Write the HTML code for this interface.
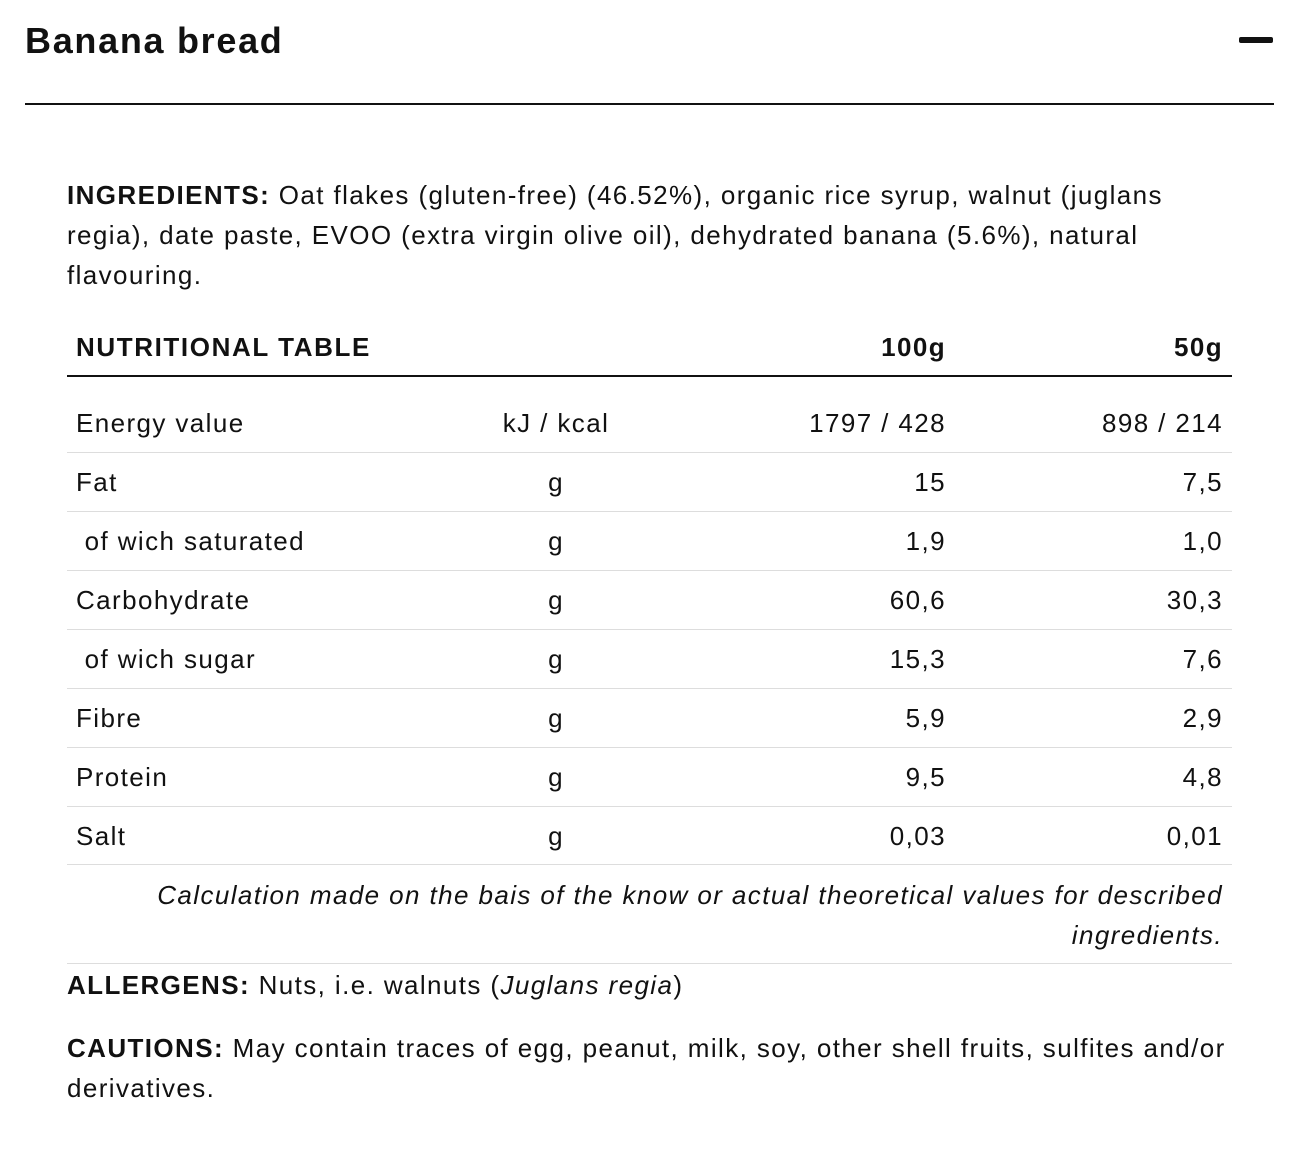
<!DOCTYPE html>
<html><head><meta charset="utf-8"><style>
body{margin:0;width:1308px;height:1168px;background:#fff;font-family:"Liberation Sans",Arial,sans-serif;color:#111;position:relative;overflow:hidden}
.a{position:absolute;white-space:nowrap;line-height:1}
.t{font-size:26px;letter-spacing:1.4px}
.r{text-align:right}
.c{text-align:center}
.hl{position:absolute;left:67px;width:1165px;height:1px;background:#ddd}
</style></head><body>
<div class="a" style="left:25px;top:23px;font-size:36px;font-weight:bold;letter-spacing:1.7px">Banana bread</div>
<div style="position:absolute;left:1239px;top:37px;width:34px;height:6px;background:#111;border-radius:2px"></div>
<div style="position:absolute;left:25px;top:103px;width:1249px;height:2px;background:#111"></div>

<div class="a t" style="left:67px;top:182px"><b>INGREDIENTS:</b> Oat flakes (gluten-free) (46.52%), organic rice syrup, walnut (juglans</div>
<div class="a t" style="left:67px;top:222px">regia), date paste, EVOO (extra virgin olive oil), dehydrated banana (5.6%), natural</div>
<div class="a t" style="left:67px;top:262px">flavouring.</div>

<div class="a t" style="left:76px;top:334px;font-weight:bold;letter-spacing:1.6px">NUTRITIONAL TABLE</div>
<div class="a t r" style="left:746px;width:200px;top:334px;font-weight:bold">100g</div>
<div class="a t r" style="left:1023px;width:200px;top:334px;font-weight:bold">50g</div>
<div style="position:absolute;left:67px;top:375px;width:1165px;height:2px;background:#111"></div>

<div class="a t" style="left:76px;top:410px">Energy value</div><div class="a t c" style="left:456px;width:200px;top:410px">kJ / kcal</div><div class="a t r" style="left:746px;width:200px;top:410px">1797 / 428</div><div class="a t r" style="left:1023px;width:200px;top:410px">898 / 214</div>
<div class="hl" style="top:452px"></div>
<div class="a t" style="left:76px;top:469px">Fat</div><div class="a t c" style="left:456px;width:200px;top:469px">g</div><div class="a t r" style="left:746px;width:200px;top:469px">15</div><div class="a t r" style="left:1023px;width:200px;top:469px">7,5</div>
<div class="hl" style="top:511px"></div>
<div class="a t" style="left:76px;top:528px">&nbsp;of wich saturated</div><div class="a t c" style="left:456px;width:200px;top:528px">g</div><div class="a t r" style="left:746px;width:200px;top:528px">1,9</div><div class="a t r" style="left:1023px;width:200px;top:528px">1,0</div>
<div class="hl" style="top:570px"></div>
<div class="a t" style="left:76px;top:587px">Carbohydrate</div><div class="a t c" style="left:456px;width:200px;top:587px">g</div><div class="a t r" style="left:746px;width:200px;top:587px">60,6</div><div class="a t r" style="left:1023px;width:200px;top:587px">30,3</div>
<div class="hl" style="top:629px"></div>
<div class="a t" style="left:76px;top:646px">&nbsp;of wich sugar</div><div class="a t c" style="left:456px;width:200px;top:646px">g</div><div class="a t r" style="left:746px;width:200px;top:646px">15,3</div><div class="a t r" style="left:1023px;width:200px;top:646px">7,6</div>
<div class="hl" style="top:688px"></div>
<div class="a t" style="left:76px;top:705px">Fibre</div><div class="a t c" style="left:456px;width:200px;top:705px">g</div><div class="a t r" style="left:746px;width:200px;top:705px">5,9</div><div class="a t r" style="left:1023px;width:200px;top:705px">2,9</div>
<div class="hl" style="top:747px"></div>
<div class="a t" style="left:76px;top:764px">Protein</div><div class="a t c" style="left:456px;width:200px;top:764px">g</div><div class="a t r" style="left:746px;width:200px;top:764px">9,5</div><div class="a t r" style="left:1023px;width:200px;top:764px">4,8</div>
<div class="hl" style="top:806px"></div>
<div class="a t" style="left:76px;top:823px">Salt</div><div class="a t c" style="left:456px;width:200px;top:823px">g</div><div class="a t r" style="left:746px;width:200px;top:823px">0,03</div><div class="a t r" style="left:1023px;width:200px;top:823px">0,01</div>
<div class="hl" style="top:864px"></div>

<div class="a t r" style="left:123px;width:1100px;top:882px;font-style:italic">Calculation made on the bais of the know or actual theoretical values for described</div>
<div class="a t r" style="left:123px;width:1100px;top:922px;font-style:italic">ingredients.</div>
<div class="hl" style="top:963px"></div>

<div class="a t" style="left:67px;top:972px"><b>ALLERGENS:</b> Nuts, i.e. walnuts (<i>Juglans regia</i>)</div>
<div class="a t" style="left:67px;top:1035px"><b>CAUTIONS:</b> May contain traces of egg, peanut, milk, soy, other shell fruits, sulfites and/or</div>
<div class="a t" style="left:67px;top:1075px">derivatives.</div>
</body></html>
